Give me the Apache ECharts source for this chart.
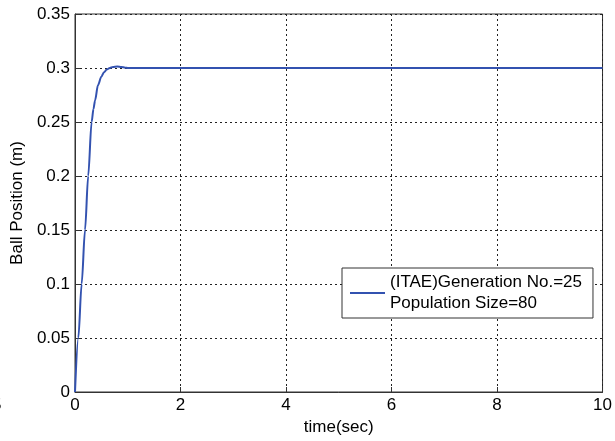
<!DOCTYPE html>
<html>
<head>
<meta charset="utf-8">
<script src="https://cdn.jsdelivr.net/npm/echarts@6/dist/echarts.min.js"></script>
<style>
  html, body { margin: 0; padding: 0; background: #fff; }
  #chart { width: 615px; height: 441px; }
</style>
</head>
<body>
<div id="chart"></div>
<script>
  // time (sec) and ball position (m)
  var timeSec = [0, 0.063, 0.126, 0.19, 0.25, 0.315, 0.35, 0.38, 0.435, 0.5, 0.55, 0.6, 0.66,
    0.72, 0.8, 0.88, 0.95, 1.0, 1.5, 2, 3, 4, 5, 6, 7, 8, 9, 10];
  var position = [0, 0.05, 0.1, 0.15, 0.2, 0.25, 0.262, 0.27, 0.284, 0.292, 0.296, 0.2985, 0.3,
    0.301, 0.3015, 0.301, 0.3003, 0.3, 0.3, 0.3, 0.3, 0.3, 0.3, 0.3, 0.3, 0.3, 0.3, 0.3];
  var legendLines = ['(ITAE)Generation No.=25', 'Population Size=80'];

  var points = [];
  for (var i = 0; i < timeSec.length; i++) {
    points.push([timeSec[i], position[i]]);
  }

  var font = 'Arial, "Liberation Sans", sans-serif';
  var gridLine = { show: true, lineStyle: { color: '#222', type: [2, 3], width: 1 } };

  var myChart = echarts.init(document.getElementById('chart'));
  var option = {
    animation: false,
    backgroundColor: '#fff',
    textStyle: { fontFamily: font },
    grid: {
      left: 75, right: 11, top: 14, bottom: 49,
      show: true, borderColor: '#333', borderWidth: 1, backgroundColor: '#fff'
    },
    legend: {
      show: true,
      left: 342,
      top: 268,
      orient: 'vertical',
      icon: 'rect',
      itemWidth: 35,
      itemHeight: 2,
      itemGap: 0,
      padding: [4, 11, 4, 8],
      borderColor: '#333',
      borderWidth: 1,
      backgroundColor: '#fff',
      textStyle: { fontFamily: font, fontSize: 17, color: '#000', lineHeight: 21 },
      formatter: function () { return legendLines.join('\n'); }
    },
    xAxis: {
      type: 'value',
      min: 0,
      max: 10,
      interval: 2,
      name: 'time(sec)',
      nameLocation: 'middle',
      nameGap: 24,
      nameTextStyle: { fontFamily: font, fontSize: 17, color: '#000' },
      axisLine: { show: true, onZero: false, lineStyle: { color: '#333' } },
      axisTick: { show: true, inside: true, length: 5, lineStyle: { color: '#333' } },
      axisLabel: { fontFamily: font, fontSize: 17, color: '#000', margin: 5 },
      splitLine: gridLine
    },
    yAxis: {
      type: 'value',
      min: 0,
      max: 0.35,
      interval: 0.05,
      name: 'Ball Position (m)',
      nameLocation: 'middle',
      nameGap: 43,
      nameTextStyle: { fontFamily: font, fontSize: 17, color: '#000' },
      axisLine: { show: true, onZero: false, lineStyle: { color: '#333' } },
      axisTick: { show: true, inside: true, length: 5, lineStyle: { color: '#333' } },
      axisLabel: {
        fontFamily: font, fontSize: 17, color: '#000', margin: 5,
        formatter: function (v) { return String(+v.toFixed(2)); }
      },
      splitLine: gridLine
    },
    graphic: [
      { type: 'text', left: -8, top: 397, style: { text: '5', font: '17px ' + font, fill: '#000' } }
    ],
    series: [
      {
        name: 'ITAE',
        type: 'line',
        data: points,
        showSymbol: false,
        smooth: 0.3,
        smoothMonotone: 'x',
        color: '#3352b0',
        lineStyle: { width: 2, color: '#3352b0' }
      }
    ]
  };
  myChart.setOption(option);
</script>
</body>
</html>
